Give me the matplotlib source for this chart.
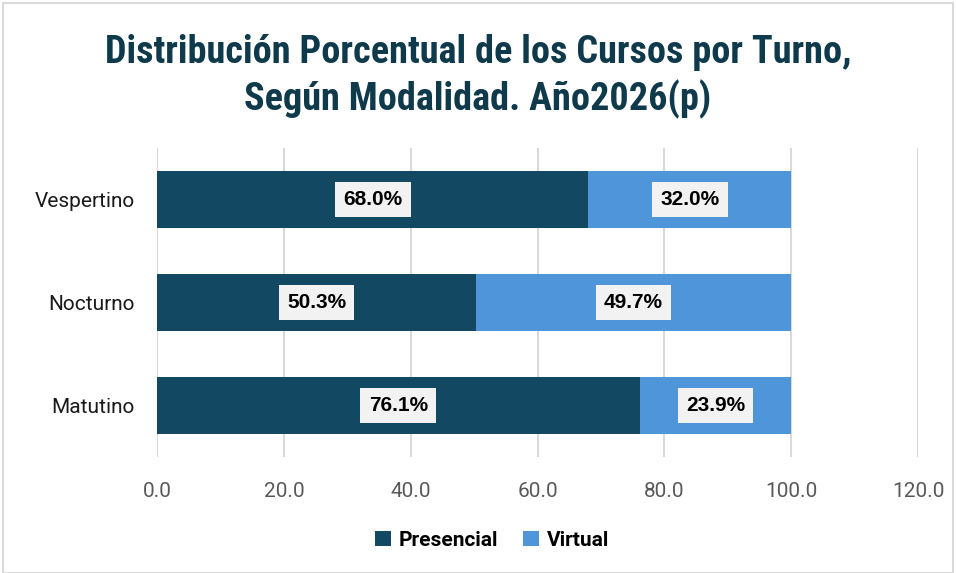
import matplotlib
matplotlib.use("Agg")
import matplotlib.pyplot as plt
from matplotlib.patches import Rectangle
from matplotlib import font_manager

categories = ["Matutino", "Nocturno", "Vespertino"]
presencial = [76.1, 50.3, 68.0]
virtual = [23.9, 49.7, 32.0]
xticks = [0, 20, 40, 60, 80, 100, 120]
title = "Distribución Porcentual de los Cursos por Turno,\nSegún Modalidad. Año2026(p)"

names = {f.name for f in font_manager.fontManager.ttflist}
narrow = "DejaVu Sans"
for cand in ["Roboto Condensed", "Liberation Sans Narrow", "Roboto"]:
    if cand in names:
        narrow = cand
        break
plt.rcParams['font.family'] = ['Roboto', 'DejaVu Sans']

c_pres = "#124861"
c_virt = "#4F95DA"

fig = plt.figure(figsize=(9.56, 5.73), dpi=100)
ax = fig.add_axes([0.1642, 0.2024, 0.9603 - 0.1642, 0.7417 - 0.2024])

y = range(len(categories))
ax.barh(y, presencial, height=0.55, color=c_pres, label="Presencial", zorder=3)
ax.barh(y, virtual, left=presencial, height=0.55, color=c_virt, label="Virtual", zorder=3)

lab_kw = dict(ha="center", va="center", fontsize=15, fontweight="bold",
              family=["Liberation Sans", "DejaVu Sans"], color="black", zorder=5,
              bbox=dict(boxstyle="square,pad=0.4", fc="#F2F2F2", ec="none"))
for i in y:
    ax.text(presencial[i] / 2, i, f"{presencial[i]:.1f}%", **lab_kw)
    ax.text(presencial[i] + virtual[i] / 2, i, f"{virtual[i]:.1f}%", **lab_kw)

ax.set_xlim(0, 120)
ax.set_ylim(-0.5, len(categories) - 0.5)
ax.set_xticks(xticks)
ax.set_xticklabels([f"{v:.1f}" for v in xticks], fontsize=15, color="#595959")
ax.set_yticks(list(y))
ax.set_yticklabels(categories, fontsize=15, color="#1a1a1a")
ax.tick_params(axis="both", length=0)
ax.tick_params(axis="x", pad=18)
ax.tick_params(axis="y", pad=16)
ax.grid(axis="x", color="#D9D9D9", linewidth=1.5, zorder=0)
for s in ax.spines.values():
    s.set_visible(False)

fig.suptitle(title, fontsize=27.5, fontweight="bold", color="#0F3A4B", y=0.941,
             linespacing=1.3, family=[narrow, "DejaVu Sans"])

leg = fig.legend(loc="center", bbox_to_anchor=(0.515, 0.057), ncol=2, frameon=False,
                 prop=dict(size=15, weight="bold", family=["Roboto", "DejaVu Sans"]),
                 handlelength=0.75, handleheight=0.75,
                 columnspacing=1.2, handletextpad=0.4)

fig.patches.append(Rectangle((0.003, 0.0), 0.994, 0.995, transform=fig.transFigure,
                             fill=False, ec="#D9D9D9", lw=1.5))

fig.savefig("out.png", dpi=100)
